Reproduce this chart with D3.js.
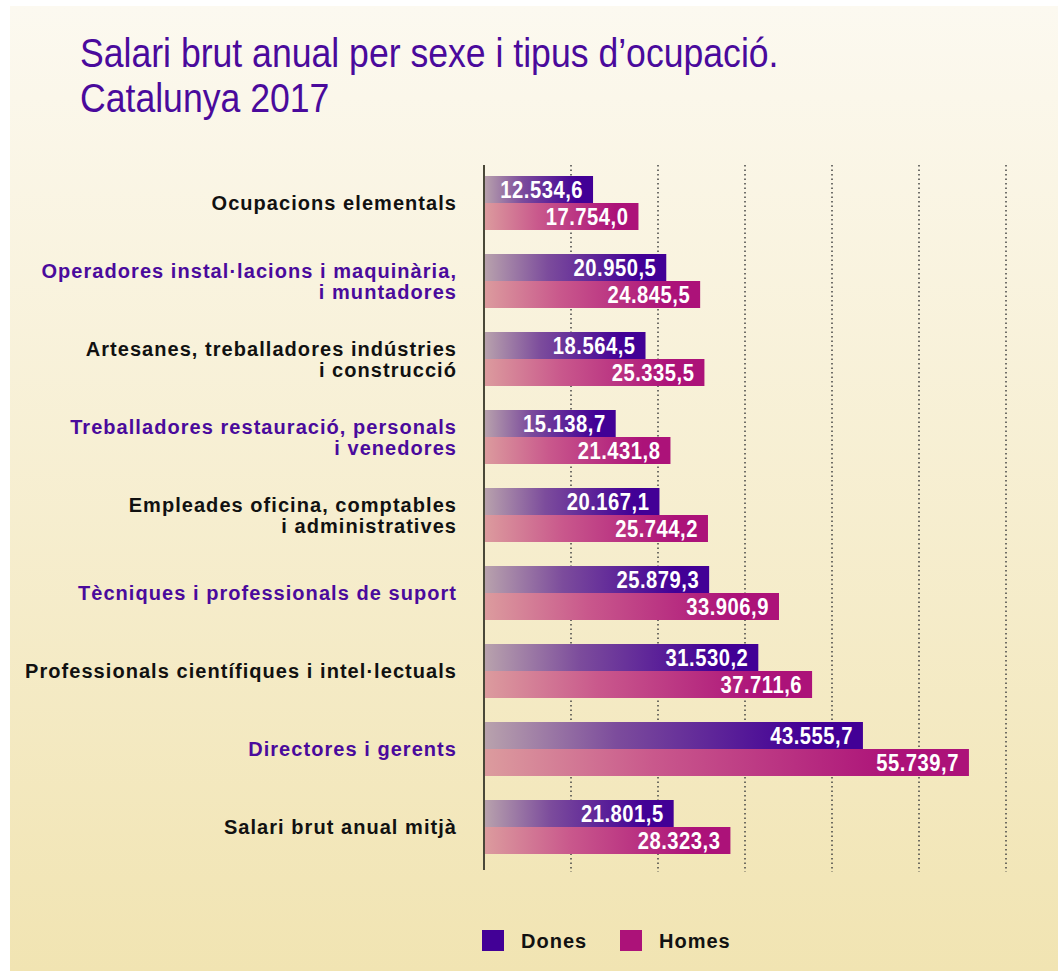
<!DOCTYPE html>
<html>
<head>
<meta charset="utf-8">
<script src="https://cdn.jsdelivr.net/npm/d3@7"></script>
<style>
  body { margin: 0; background: #fff; }
  svg { display: block; }
</style>
</head>
<body>
<div id="chart"></div>
<script>
// data
var categories = [
  ["Ocupacions elementals"],
  ["Operadores instal·lacions i maquinària,", "i muntadores"],
  ["Artesanes, treballadores indústries", "i construcció"],
  ["Treballadores restauració, personals", "i venedores"],
  ["Empleades oficina, comptables", "i administratives"],
  ["Tècniques i professionals de suport"],
  ["Professionals científiques i intel·lectuals"],
  ["Directores i gerents"],
  ["Salari brut anual mitjà"]
];
var dones = [12534.6, 20950.5, 18564.5, 15138.7, 20167.1, 25879.3, 31530.2, 43555.7, 21801.5];
var homes = [17754.0, 24845.5, 25335.5, 21431.8, 25744.2, 33906.9, 37711.6, 55739.7, 28323.3];
var series = ["Dones", "Homes"];
var gridTicks = [10000, 20000, 30000, 40000, 50000, 60000];

var W = 1058, H = 971;
var x0 = 484, rowTop = 176, rowStep = 78, barH = 27;

var svg = d3.select("#chart").append("svg")
  .attr("width", W).attr("height", H);

var defs = svg.append("defs");
var bg = defs.append("linearGradient").attr("id", "bg")
  .attr("x1", 0).attr("y1", 0).attr("x2", 0).attr("y2", 1);
bg.append("stop").attr("offset", "0%").attr("stop-color", "#fcf9f0");
bg.append("stop").attr("offset", "100%").attr("stop-color", "#f1e4b2");

var gD = defs.append("linearGradient").attr("id", "gDones");
gD.append("stop").attr("offset", "0%").attr("stop-color", "#b9a3ad");
gD.append("stop").attr("offset", "35%").attr("stop-color", "#7c4c9c");
gD.append("stop").attr("offset", "85%").attr("stop-color", "#420096");
var gH = defs.append("linearGradient").attr("id", "gHomes");
gH.append("stop").attr("offset", "0%").attr("stop-color", "#dc9c9e");
gH.append("stop").attr("offset", "35%").attr("stop-color", "#c9588c");
gH.append("stop").attr("offset", "85%").attr("stop-color", "#ac1279");

// background panel
svg.append("rect").attr("x", 10).attr("y", 6).attr("width", W - 10).attr("height", H - 6)
  .attr("fill", "url(#bg)");

// title (condensed look via horizontal squeeze)
var title = svg.append("text")
  .attr("transform", "translate(80,0) scale(0.89,1)")
  .style("font-family", "'Liberation Sans', Arial, sans-serif")
  .style("font-size", "40px")
  .style("fill", "#4a0a9c");
title.append("tspan").attr("x", 0).attr("y", 67).text("Salari brut anual per sexe i tipus d\u2019ocupació.");
title.append("tspan").attr("x", 0).attr("y", 112).text("Catalunya 2017");

// scales
var x = d3.scaleLinear().domain([0, 60000]).range([x0, x0 + 522]);
var y = d3.scaleBand().domain(d3.range(categories.length))
  .range([rowTop, rowTop + rowStep * categories.length]).paddingInner(0);

// dotted gridlines
svg.append("g").selectAll("line").data(gridTicks).enter().append("line")
  .attr("x1", function (d) { return x(d); })
  .attr("x2", function (d) { return x(d); })
  .attr("y1", 165).attr("y2", 872)
  .attr("stroke", "#444")
  .attr("stroke-width", 1.5)
  .attr("stroke-dasharray", "1.5 3");

// bars
var rows = svg.append("g").selectAll("g").data(categories).enter().append("g")
  .attr("transform", function (d, i) { return "translate(0," + y(i) + ")"; });

rows.append("rect")
  .attr("x", x(0))
  .attr("y", 0)
  .attr("width", function (d, i) { return x(dones[i]) - x(0); })
  .attr("height", barH)
  .attr("fill", "url(#gDones)");
rows.append("rect")
  .attr("x", x(0))
  .attr("y", barH)
  .attr("width", function (d, i) { return x(homes[i]) - x(0); })
  .attr("height", barH)
  .attr("fill", "url(#gHomes)");

var fmt = function (v) {
  var s = v.toFixed(1).split(".");
  return s[0].replace(/\B(?=(\d{3})+(?!\d))/g, ".") + "," + s[1];
};

function valueLabel(arr, off) {
  rows.append("text")
    .attr("transform", function (d, i) {
      return "translate(" + (x(arr[i]) - 10) + "," + (off + barH / 2 + 8.5) + ") scale(0.86,1)";
    })
    .attr("text-anchor", "end")
    .style("font-family", "'Liberation Sans', Arial, sans-serif")
    .style("font-weight", "bold")
    .style("font-size", "23.5px")
    .style("letter-spacing", "0.6px")
    .style("fill", "#fff")
    .text(function (d, i) { return fmt(arr[i]); });
}
valueLabel(dones, 0);
valueLabel(homes, barH);

// category labels
rows.append("text")
  .attr("text-anchor", "end")
  .style("font-family", "'Liberation Sans', Arial, sans-serif")
  .style("font-weight", "bold")
  .style("font-size", "20px")
  .style("letter-spacing", "1.05px")
  .style("fill", function (d, i) { return i % 2 ? "#4a0a9c" : "#111"; })
  .each(function (d) {
    var t = d3.select(this);
    var n = d.length;
    d.forEach(function (line, k) {
      t.append("tspan")
        .attr("x", 457)
        .attr("y", barH + 7 + (k - (n - 1) / 2) * 21)
        .text(line);
    });
  });

// axis line
svg.append("line")
  .attr("x1", x(0)).attr("x2", x(0))
  .attr("y1", 165).attr("y2", 870)
  .attr("stroke", "#4a4838").attr("stroke-width", 2);

// legend
var legend = svg.append("g").selectAll("g").data(series).enter().append("g")
  .attr("transform", function (d, i) { return "translate(" + (482 + i * 138) + ",930)"; });
legend.append("rect").attr("width", 22).attr("height", 21)
  .attr("fill", function (d, i) { return i ? "#ac1279" : "#420096"; });
legend.append("text")
  .attr("x", 39).attr("y", 18)
  .style("font-family", "'Liberation Sans', Arial, sans-serif")
  .style("font-weight", "bold")
  .style("font-size", "20px")
  .style("letter-spacing", "1px")
  .style("fill", "#111")
  .text(function (d) { return d; });
</script>
</body>
</html>
